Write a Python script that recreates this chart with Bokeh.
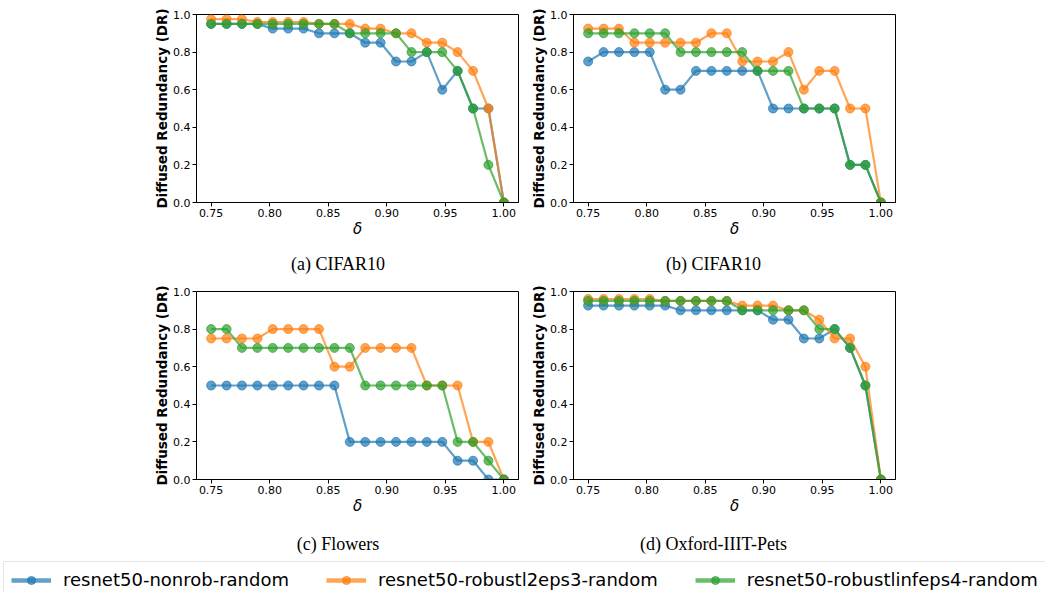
from bokeh.plotting import figure
from bokeh.layouts import column, row
from bokeh.models import (Range1d, FixedTicker, CustomJSTickFormatter, Legend, LegendItem,
                          ColumnDataSource)
from bokeh.core.properties import value
from bokeh.embed import file_html
from bokeh.resources import INLINE

# ---------------- data ----------------
delta = [0.75, 0.7632, 0.7763, 0.7895, 0.8026, 0.8158, 0.8289, 0.8421, 0.8553, 0.8684,
         0.8816, 0.8947, 0.9079, 0.9211, 0.9342, 0.9474, 0.9605, 0.9737, 0.9868, 1.0]

series_names = ["resnet50-nonrob-random", "resnet50-robustl2eps3-random", "resnet50-robustlinfeps4-random"]
series_colors = ["#1f77b4", "#ff7f0e", "#2ca02c"]

cifar10_a_nonrob = [0.95, 0.95, 0.95, 0.95, 0.925, 0.925, 0.925, 0.9, 0.9, 0.9,
                    0.85, 0.85, 0.75, 0.75, 0.8, 0.6, 0.7, 0.5, 0.5, 0.0]
cifar10_a_l2 = [0.975, 0.975, 0.975, 0.96, 0.96, 0.96, 0.96, 0.95, 0.95, 0.95,
                0.925, 0.925, 0.9, 0.9, 0.85, 0.85, 0.8, 0.7, 0.5, 0.0]
cifar10_a_linf = [0.95, 0.95, 0.95, 0.95, 0.95, 0.95, 0.95, 0.95, 0.95, 0.9,
                  0.9, 0.9, 0.9, 0.8, 0.8, 0.8, 0.7, 0.5, 0.2, 0.0]

cifar10_b_nonrob = [0.75, 0.8, 0.8, 0.8, 0.8, 0.6, 0.6, 0.7, 0.7, 0.7,
                    0.7, 0.7, 0.5, 0.5, 0.5, 0.5, 0.5, 0.2, 0.2, 0.0]
cifar10_b_l2 = [0.925, 0.925, 0.925, 0.85, 0.85, 0.85, 0.85, 0.85, 0.9, 0.9,
                0.75, 0.75, 0.75, 0.8, 0.6, 0.7, 0.7, 0.5, 0.5, 0.0]
cifar10_b_linf = [0.9, 0.9, 0.9, 0.9, 0.9, 0.9, 0.8, 0.8, 0.8, 0.8,
                  0.8, 0.7, 0.7, 0.7, 0.5, 0.5, 0.5, 0.2, 0.2, 0.0]

flowers_nonrob = [0.5, 0.5, 0.5, 0.5, 0.5, 0.5, 0.5, 0.5, 0.5, 0.2,
                  0.2, 0.2, 0.2, 0.2, 0.2, 0.2, 0.1, 0.1, 0.0, 0.0]
flowers_l2 = [0.75, 0.75, 0.75, 0.75, 0.8, 0.8, 0.8, 0.8, 0.6, 0.6,
              0.7, 0.7, 0.7, 0.7, 0.5, 0.5, 0.5, 0.2, 0.2, 0.0]
flowers_linf = [0.8, 0.8, 0.7, 0.7, 0.7, 0.7, 0.7, 0.7, 0.7, 0.7,
                0.5, 0.5, 0.5, 0.5, 0.5, 0.5, 0.2, 0.2, 0.1, 0.0]

pets_nonrob = [0.925, 0.925, 0.925, 0.925, 0.925, 0.925, 0.9, 0.9, 0.9, 0.9,
               0.9, 0.9, 0.85, 0.85, 0.75, 0.75, 0.8, 0.7, 0.5, 0.0]
pets_l2 = [0.96, 0.96, 0.96, 0.96, 0.96, 0.95, 0.95, 0.95, 0.95, 0.95,
           0.925, 0.925, 0.925, 0.9, 0.9, 0.85, 0.75, 0.75, 0.6, 0.0]
pets_linf = [0.95, 0.95, 0.95, 0.95, 0.95, 0.95, 0.95, 0.95, 0.95, 0.95,
             0.9, 0.9, 0.9, 0.9, 0.9, 0.8, 0.8, 0.7, 0.5, 0.0]

captions = ["(a) CIFAR10", "(b) CIFAR10", "(c) Flowers", "(d) Oxford-IIIT-Pets"]
x_ticks = [0.75, 0.80, 0.85, 0.90, 0.95, 1.00]
y_ticks = [0.0, 0.2, 0.4, 0.6, 0.8, 1.0]
y_label = "Diffused Redundancy (DR)"
x_label = "\u03b4"

SANS = "DejaVu Sans"
SERIF = "Liberation Serif"

# ---------------- layout geometry ----------------
LW, RW = 523, 522          # widths of left/right columns
FRAME_W, FRAME_H = 322, 188


def panel(series, left_border, right_border, top_border, bottom_border):
    p = figure(width=left_border + FRAME_W + right_border,
               height=top_border + FRAME_H + bottom_border,
               x_range=Range1d(0.7375, 1.0125), y_range=Range1d(0.0, 1.0),
               output_backend="svg", toolbar_location=None,
               min_border_left=left_border, min_border_right=right_border,
               min_border_top=top_border, min_border_bottom=bottom_border)
    p.grid.visible = False
    p.outline_line_color = "black"
    p.outline_line_width = 1
    p.outline_line_alpha = 1
    p.background_fill_color = "white"
    p.border_fill_color = "white"

    for ys, color in zip(series, series_colors):
        src = ColumnDataSource(dict(x=delta, y=ys))
        p.line("x", "y", source=src, line_color=color, line_width=2.2, line_alpha=0.7)
        p.scatter("x", "y", source=src, size=9, fill_color=color, line_color=color,
                  line_width=1, fill_alpha=0.7, line_alpha=0.7)

    p.xaxis.ticker = FixedTicker(ticks=x_ticks)
    p.yaxis.ticker = FixedTicker(ticks=y_ticks)
    p.xaxis.formatter = CustomJSTickFormatter(code="return tick.toFixed(2);")
    p.yaxis.formatter = CustomJSTickFormatter(code="return tick.toFixed(1);")
    for ax in (p.xaxis[0], p.yaxis[0]):
        ax.axis_line_color = "black"
        ax.axis_line_width = 1
        ax.major_tick_out = 4
        ax.major_tick_in = 0
        ax.major_tick_line_color = "black"
        ax.minor_tick_out = 0
        ax.minor_tick_in = 0
        ax.major_label_text_font = SANS
        ax.major_label_text_font_size = "11px"
        ax.major_label_text_color = "black"
    p.xaxis.major_label_standoff = 2
    p.yaxis.major_label_standoff = 2
    p.yaxis.axis_label = y_label
    p.yaxis.axis_label_text_font = SANS
    p.yaxis.axis_label_text_font_size = "13.5px"
    p.yaxis.axis_label_text_font_style = "bold"
    p.yaxis.axis_label_text_color = "black"
    p.yaxis.axis_label_standoff = 0
    p.xaxis.axis_label = x_label
    p.xaxis.axis_label_text_font = SANS
    p.xaxis.axis_label_text_font_size = "15px"
    p.xaxis.axis_label_text_font_style = "italic"
    p.xaxis.axis_label_text_color = "black"
    p.xaxis.axis_label_standoff = 0
    return p


def caption_fig(text, w, h, cx, cy):
    c = figure(width=w, height=h, x_range=Range1d(0, w), y_range=Range1d(0, h),
               output_backend="svg", toolbar_location=None,
               min_border=0, min_border_left=0, min_border_right=0,
               min_border_top=0, min_border_bottom=0)
    c.axis.visible = False
    c.grid.visible = False
    c.outline_line_color = None
    c.text(x=[cx], y=[h - cy], text=[text], text_font=value(SERIF), text_font_size="18px",
           text_align="center", text_baseline="middle", text_color="black")
    return c


# row 1: page y 0 .. 244, frame 14..202
pa = panel([cifar10_a_nonrob, cifar10_a_l2, cifar10_a_linf], 196, 5, 14, 42)
pb = panel([cifar10_b_nonrob, cifar10_b_l2, cifar10_b_linf], 50, 150, 14, 42)
# captions row 1: page y 244 .. 283
ca = caption_fig(captions[0], LW, 39, 337.5, 19)
cb = caption_fig(captions[1], RW, 39, 190, 19)
# row 2: page y 283 .. 521, frame 291..479
pc = panel([flowers_nonrob, flowers_l2, flowers_linf], 196, 5, 8, 42)
pd = panel([pets_nonrob, pets_l2, pets_linf], 50, 150, 8, 42)
# captions row 2: page y 521 .. 558
cc = caption_fig(captions[2], LW, 37, 337.5, 22)
cd = caption_fig(captions[3], RW, 37, 190, 22)

# legend strip: page y 558 .. 592
LEG_W, LEG_H = LW + RW, 34
lg = figure(width=LEG_W, height=LEG_H, x_range=Range1d(0, 1), y_range=Range1d(0, 1),
            output_backend="svg", toolbar_location=None,
            min_border=0, min_border_left=0, min_border_right=0,
            min_border_top=0, min_border_bottom=0)
lg.axis.visible = False
lg.grid.visible = False
lg.outline_line_color = None
items = []
for name, color in zip(series_names, series_colors):
    # placeholder sources lie outside the visible range; they only feed the legend glyphs
    src = ColumnDataSource(dict(x=[-10.0, -9.0], y=[-10.0, -10.0]))
    r1 = lg.line("x", "y", source=src, line_color=color, line_width=4.5, line_alpha=0.7)
    r2 = lg.scatter("x", "y", source=src, size=14, fill_color=color, line_color=color,
                    fill_alpha=0.7, line_alpha=0.7)
    items.append(LegendItem(label=name, renderers=[r1, r2]))
legend = Legend(items=items, orientation="horizontal", location="top_left",
                label_text_font=SANS, label_text_font_size="18px", label_text_color="black",
                glyph_width=40, glyph_height=20, label_standoff=12, spacing=37, padding=7,
                margin=3, border_line_color="#cccccc", border_line_width=1,
                background_fill_color="white", background_fill_alpha=1)
lg.add_layout(legend)

layout = column(row(pa, pb), row(ca, cb), row(pc, pd), row(cc, cd), lg)

open("out.html", "w").write(file_html(layout, INLINE))
